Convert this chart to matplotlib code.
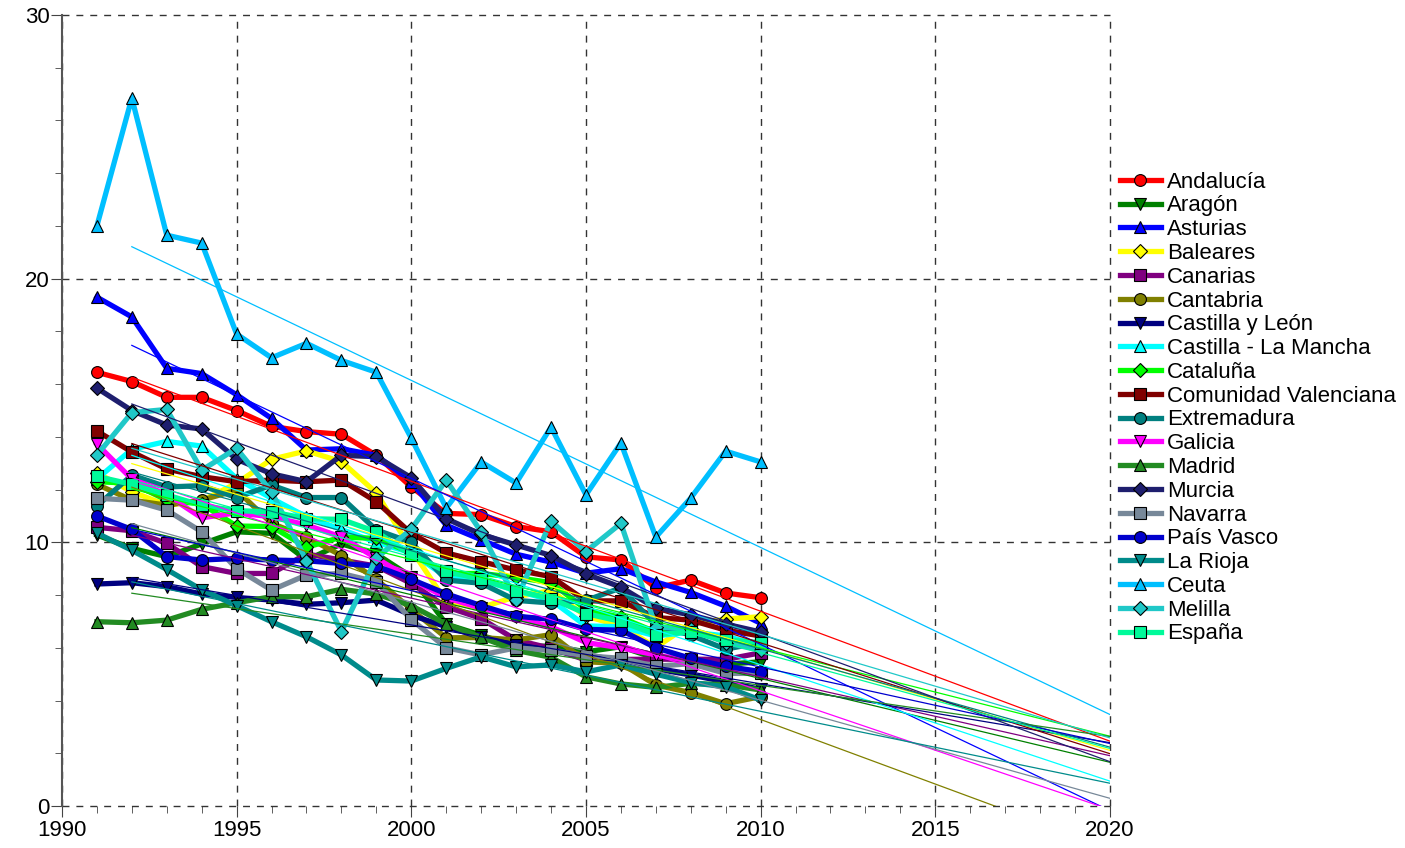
import matplotlib
matplotlib.use("Agg")
import matplotlib.pyplot as plt
import numpy as np

plt.rcParams["font.family"] = ["Liberation Sans", "DejaVu Sans"]

years = np.arange(1991, 2011)

andalucia = [16.45, 16.1, 15.5, 15.5, 15.0, 14.4, 14.2, 14.1, 13.3, 12.1, 11.1, 11.05, 10.6, 10.4, 9.45, 9.33, 8.27, 8.57, 8.08, 7.9]
aragon = [10.28, 9.77, 9.46, 9.94, 10.4, 10.34, 9.33, 9.94, 9.56, 8.7, 6.9, 6.48, 6.04, 6.07, 5.85, 6.04, 5.6, 5.56, 5.38, 5.47]
asturias = [19.3, 18.55, 16.6, 16.4, 15.6, 14.7, 13.5, 13.55, 13.3, 12.3, 10.65, 10.1, 9.55, 9.25, 8.83, 9.0, 8.5, 8.1, 7.58, 6.93]
baleares = [12.64, 11.92, 11.41, 11.58, 12.24, 13.15, 13.47, 13.06, 11.88, 9.73, 7.75, 7.53, 7.94, 8.17, 7.2, 6.83, 6.02, 6.9, 7.09, 7.18]
canarias = [10.57, 10.44, 9.96, 9.08, 8.82, 8.82, 9.56, 9.33, 9.1, 8.44, 7.56, 7.11, 6.3, 5.98, 5.54, 5.56, 5.57, 5.57, 5.56, 5.81]
cantabria = [12.2, 11.6, 11.41, 11.6, 11.98, 10.72, 10.2, 9.5, 8.6, 7.46, 6.38, 6.39, 6.3, 6.5, 5.47, 5.41, 4.59, 4.3, 3.88, 4.15]
castilla_leon = [8.42, 8.47, 8.32, 8.04, 7.91, 7.81, 7.65, 7.71, 7.81, 7.24, 6.8, 6.4, 6.1, 5.9, 5.7, 5.55, 5.2, 4.97, 4.71, 4.42]
castilla_mancha = [12.4, 13.53, 13.83, 13.65, 12.42, 11.67, 10.97, 10.49, 10.0, 9.6, 8.69, 8.57, 8.17, 7.81, 6.83, 6.8, 6.45, 6.6, 6.45, 6.07]
cataluna = [12.3, 12.24, 11.6, 11.45, 10.62, 10.6, 9.81, 10.2, 10.15, 9.6, 8.82, 8.82, 8.67, 8.47, 7.46, 7.15, 6.6, 6.7, 6.3, 6.0]
valenciana = [14.22, 13.43, 12.78, 12.49, 12.3, 12.36, 12.3, 12.36, 11.54, 10.34, 9.6, 9.27, 8.95, 8.7, 7.78, 7.78, 7.15, 7.05, 6.67, 6.45]
extremadura = [11.38, 12.55, 12.1, 12.15, 11.7, 12.17, 11.7, 11.7, 10.47, 10.0, 8.57, 8.45, 7.8, 7.7, 7.8, 8.27, 6.86, 6.48, 5.95, 6.2]
galicia = [13.73, 12.4, 11.8, 10.93, 11.12, 10.97, 10.66, 10.2, 9.4, 8.6, 7.9, 7.5, 7.15, 6.8, 6.2, 6.0, 5.73, 5.5, 5.2, 5.0]
madrid = [6.99, 6.95, 7.05, 7.46, 7.71, 7.94, 7.94, 8.22, 8.04, 7.6, 6.9, 6.4, 5.9, 5.64, 4.9, 4.63, 4.5, 4.65, 4.6, 4.4]
murcia = [15.85, 15.0, 14.45, 14.3, 13.15, 12.6, 12.3, 13.3, 13.25, 12.45, 10.9, 10.3, 9.9, 9.5, 8.8, 8.3, 7.5, 7.25, 6.9, 6.6]
navarra = [11.67, 11.6, 11.22, 10.4, 9.0, 8.19, 8.76, 8.82, 8.5, 7.07, 6.0, 5.73, 6.0, 5.9, 5.7, 5.6, 5.3, 5.4, 5.03, 5.03]
pais_vasco = [11.0, 10.49, 9.46, 9.33, 9.39, 9.33, 9.3, 9.2, 9.1, 8.6, 8.05, 7.6, 7.2, 7.08, 6.7, 6.67, 6.0, 5.6, 5.3, 5.1]
la_rioja = [10.35, 9.7, 8.97, 8.2, 7.6, 6.99, 6.42, 5.73, 4.78, 4.74, 5.22, 5.66, 5.28, 5.35, 5.09, 5.35, 5.0, 4.68, 4.52, 4.02]
ceuta = [22.0, 26.85, 21.65, 21.35, 17.9, 17.0, 17.55, 16.9, 16.45, 13.95, 11.3, 13.05, 12.25, 14.37, 11.8, 13.77, 10.2, 11.68, 13.46, 13.05]
melilla = [13.31, 14.92, 15.04, 12.74, 13.56, 11.92, 9.3, 6.61, 9.4, 10.5, 12.36, 10.4, 7.81, 10.8, 9.65, 10.72, 6.8, 6.7, 6.2, 5.9]
espana = [12.5, 12.2, 11.8, 11.4, 11.2, 11.16, 10.9, 10.87, 10.4, 9.52, 8.9, 8.6, 8.17, 7.87, 7.3, 7.0, 6.5, 6.6, 6.3, 6.2]

names = ["Andalucía", "Aragón", "Asturias", "Baleares", "Canarias", "Cantabria",
         "Castilla y León", "Castilla - La Mancha", "Cataluña",
         "Comunidad Valenciana", "Extremadura", "Galicia", "Madrid", "Murcia",
         "Navarra", "País Vasco", "La Rioja", "Ceuta", "Melilla", "España"]
series = [andalucia, aragon, asturias, baleares, canarias, cantabria,
          castilla_leon, castilla_mancha, cataluna, valenciana, extremadura,
          galicia, madrid, murcia, navarra, pais_vasco, la_rioja, ceuta,
          melilla, espana]
colors = ["#ff0000", "#008000", "#0000ff", "#ffff00", "#800080", "#808000",
          "#000080", "#00ffff", "#00ff00", "#800000", "#008080", "#ff00ff",
          "#228b22", "#1e1e6e", "#778899", "#0000cd", "#008b8b", "#00bfff",
          "#20c8c8", "#00fa9a"]
markers = ["o", "v", "^", "D", "s"] * 4

fig = plt.figure(figsize=(14.05, 8.48), dpi=100)
ax = fig.add_axes([0.0441, 0.0495, 0.7459, 0.9328])

handles = []
for name, vals, col, mk in zip(names, series, colors, markers):
    ms = 7 if mk == "D" else 8.5
    h, = ax.plot(years, vals, color=col, lw=3.8, marker=mk, ms=ms,
                 mfc=col, mec="black", mew=0.8, label=name, zorder=3)
    handles.append(h)

# linear trends, extended to 2020
xt = np.array([1992, 2020])
for vals, col in zip(series, colors):
    a, b = np.polyfit(years, vals, 1)
    ax.plot(xt, a * xt + b, color=col, lw=0.9, zorder=4)

ax.set_xlim(1990, 2020)
ax.set_ylim(0, 30)
ax.set_xticks(range(1990, 2021, 5))
ax.set_xticks(range(1990, 2021), minor=True)
ax.set_yticks([0, 10, 20, 30])
ax.set_yticks(range(0, 31, 2), minor=True)
ax.tick_params(axis="both", which="major", labelsize=16, length=8,
               direction="out", color="#444444")
ax.tick_params(axis="both", which="minor", length=5, direction="out",
               color="#444444")
ax.tick_params(axis="y", pad=1)
ax.tick_params(axis="x", pad=2)
for s in ["top", "right", "bottom"]:
    ax.spines[s].set_visible(False)
ax.spines["left"].set_color("#555555")
ax.spines["left"].set_linewidth(1.5)
ax.grid(True, which="major", color="#333333", linestyle=(0, (5, 5)),
        linewidth=1.0)
ax.set_axisbelow(True)
for gl in ax.get_xgridlines() + ax.get_ygridlines():
    gl.set_clip_on(False)

leg = fig.legend(handles=handles, loc="upper left",
                 bbox_to_anchor=(0.7905, 0.808), frameon=False, fontsize=16,
                 handlelength=1.85, handletextpad=0.28, labelspacing=0.125,
                 borderaxespad=0)

fig.savefig("out.png", dpi=100)
